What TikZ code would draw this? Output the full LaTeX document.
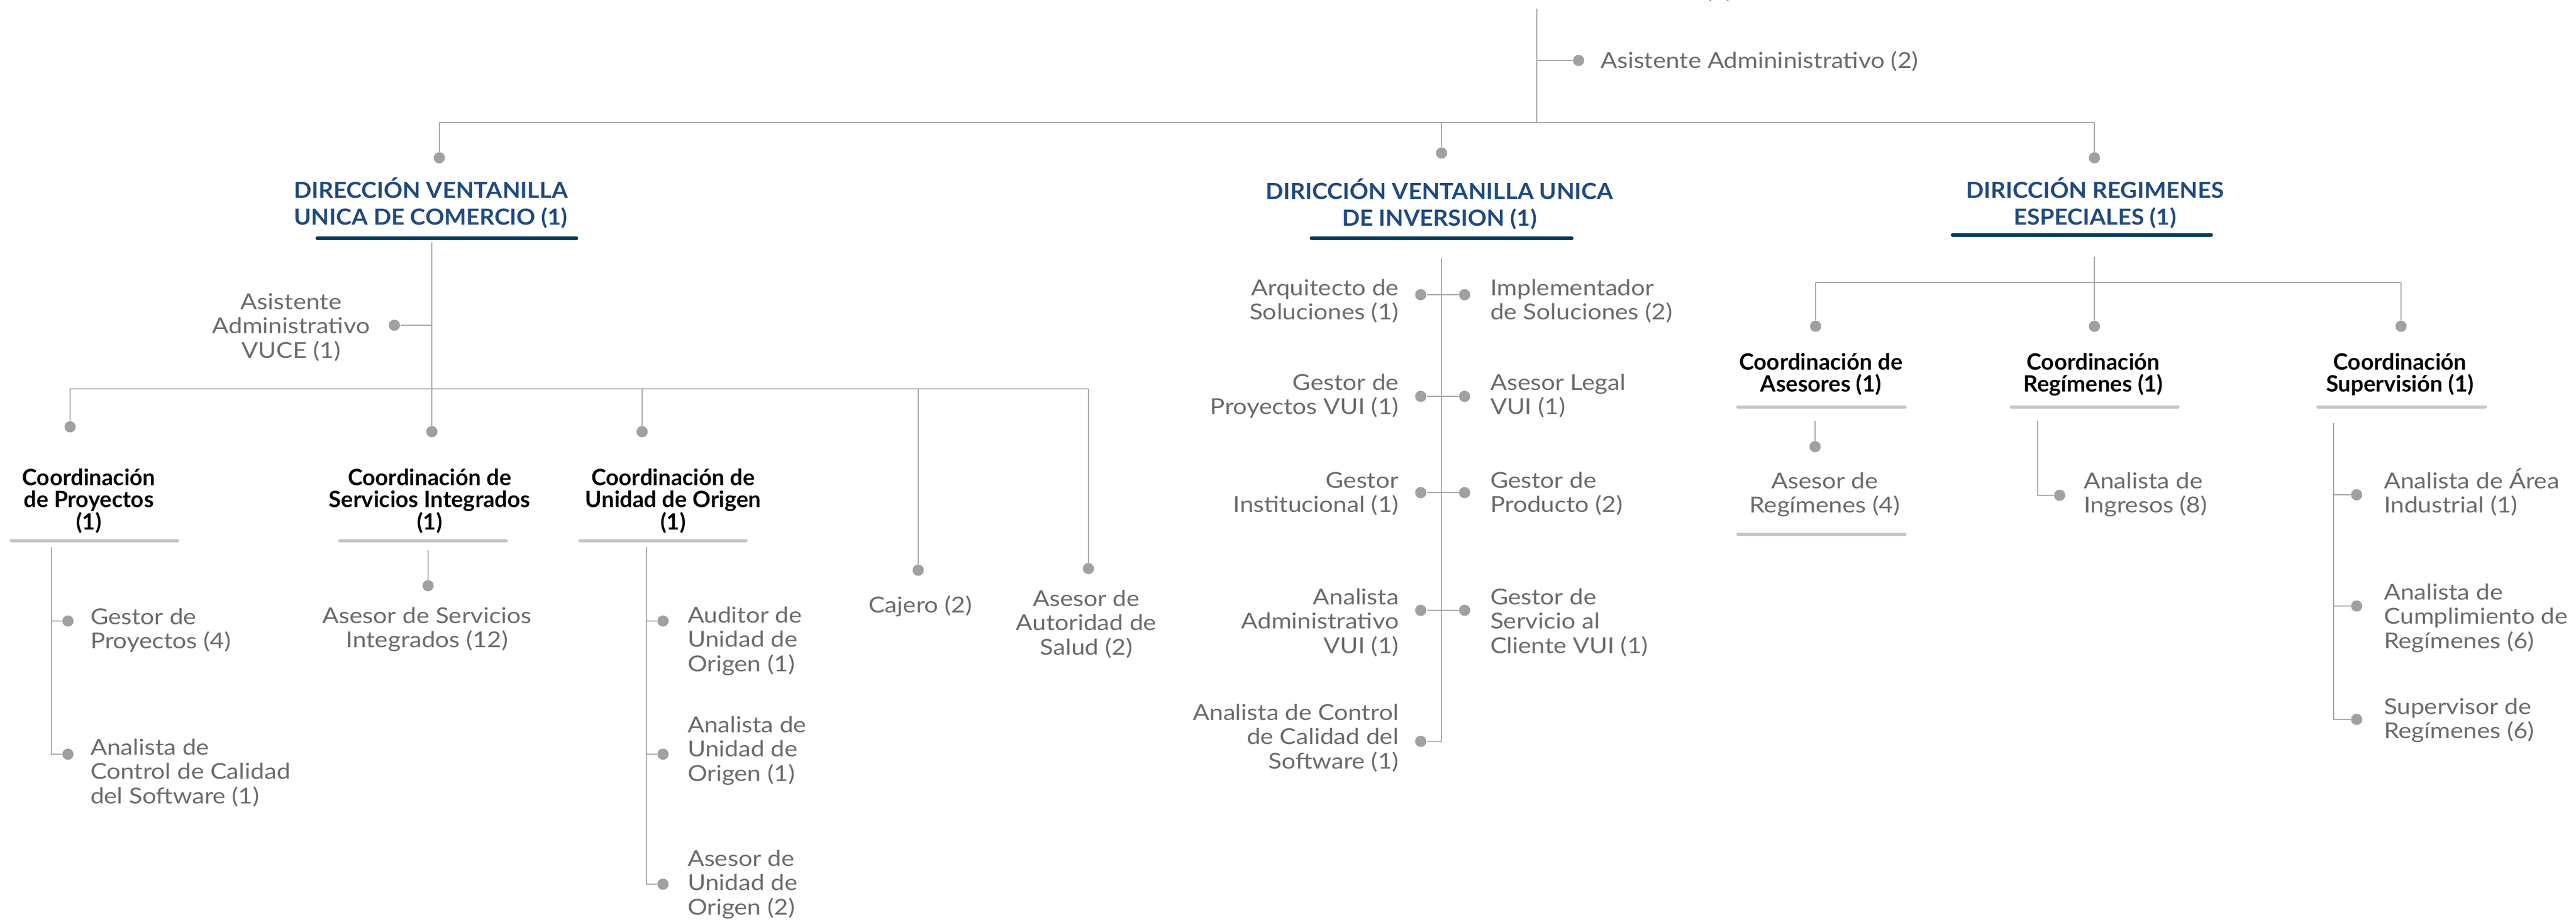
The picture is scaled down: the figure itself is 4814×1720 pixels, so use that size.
\documentclass[tikz,border=0pt]{standalone}
\usepackage{fontspec}
\setmainfont{Lato}
\newfontfamily\graylato{Lato}[FakeStretch=1.12]
\newfontfamily\titlelato{Lato}[FakeStretch=1.05]
\definecolor{txtg}{HTML}{6B6B6B}
\definecolor{lineg}{HTML}{A6A6A6}
\definecolor{dotg}{HTML}{A0A0A0}
\definecolor{barg}{HTML}{C6C6C6}
\definecolor{titleblue}{HTML}{1F4A80}
\definecolor{navy}{HTML}{023A5E}
\def\Lt#1{\vtop{\lineskiplimit=-20pt\halign{##\hfil\cr#1\crcr}}}
\def\Ct#1{\vtop{\lineskiplimit=-20pt\halign{\hfil##\hfil\cr#1\crcr}}}
\def\Rt#1{\vtop{\lineskiplimit=-20pt\halign{\hfil##\cr#1\crcr}}}
\begin{document}
\begin{tikzpicture}[x=0.2pt,y=-0.2pt,
  ln/.style={draw=lineg, line width=0.5pt},
  dot/.style={circle, fill=dotg, inner sep=0pt, minimum size=4.2pt},
  gtxt/.style={text=txtg, inner sep=0pt, font=\graylato\fontsize{8.2}{9.1}\selectfont},
  htxt/.style={text=black, inner sep=0pt, font=\bfseries\fontsize{8.4}{8.3}\selectfont},
  btxt/.style={text=titleblue, inner sep=0pt, font=\titlelato\bfseries\fontsize{8.3}{10}\selectfont},
  navybar/.style={draw=navy, line width=1.4pt, line cap=round},
  graybar/.style={draw=barg, line width=1.3pt, line cap=round}]
\useasboundingbox (0,0) rectangle (4814,1720);
\begin{scope}
\clip (0,0) rectangle (4814,1720);
\node[btxt, anchor=base] (tTop) at (3213,-5) {(1)};
\end{scope}

% ---------- top level ----------
\coordinate (top) at (2872,16);
\coordinate (jAsis) at (2872,113);
\coordinate (jMain) at (2872,229);
\coordinate (mL) at (821,229);
\coordinate (mM) at (2694,229);
\coordinate (mR) at (3914,229);
\node[dot] (dAsis) at (2950,113) {};
\node[gtxt, anchor=base west] (tAsis) at (2990,128) {Asistente Admininistrativo (2)};
\node[dot] (dCom) at (821,295) {};
\node[dot] (dInv) at (2694,286) {};
\node[dot] (dReg) at (3914,295) {};
\draw[ln] (top) -- (jMain);
\draw[ln] (jAsis) -- (dAsis);
\draw[ln] (mL) -- (mR);
\draw[ln] (mL) -- (dCom);
\draw[ln] (mM) -- (dInv);
\draw[ln] (mR) -- (dReg);

% ---------- titles ----------
\node[btxt, anchor=base] (tCom) at (805,370) {\Ct{DIRECCIÓN VENTANILLA\cr UNICA DE COMERCIO (1)}};
\node[btxt, anchor=base] (tInv) at (2690,372) {\Ct{DIRICCIÓN VENTANILLA UNICA\cr DE INVERSION (1)}};
\node[btxt, anchor=base] (tReg) at (3915,370) {\Ct{DIRICCIÓN REGIMENES\cr ESPECIALES (1)}};
\coordinate (uComL) at (593,445); \coordinate (uComR) at (1077,445);
\coordinate (uInvL) at (2451,445); \coordinate (uInvR) at (2937,445);
\coordinate (uRegL) at (3649,439); \coordinate (uRegR) at (4132,439);
\draw[navybar] (uComL) -- (uComR);
\draw[navybar] (uInvL) -- (uInvR);
\draw[navybar] (uRegL) -- (uRegR);

% ---------- Comercio ----------
\coordinate (vCom) at (807,453);
\coordinate (jAsisV) at (807,608);
\node[dot] (dAsisV) at (737,608) {};
\node[gtxt, anchor=base] (tAsisV) at (544,578) {\Ct{Asistente\cr Administrativo\cr VUCE (1)}};
\coordinate (sbL) at (131,727);
\coordinate (sbC) at (807,727);
\coordinate (sbU) at (1200,727);
\coordinate (sbCa) at (1716,727);
\coordinate (sbR) at (2034,727);
\node[dot] (dProy) at (131,798) {};
\node[dot] (dServ) at (807,807) {};
\node[dot] (dUni) at (1200,807) {};
\node[dot] (dCaj) at (1716,1066) {};
\node[dot] (dAut) at (2034,1063) {};
\draw[ln] (vCom) -- (dServ);
\draw[ln] (jAsisV) -- (dAsisV);
\draw[ln] (sbL) -- (sbR);
\draw[ln] (sbL) -- (dProy);
\draw[ln] (sbU) -- (dUni);
\draw[ln] (sbCa) -- (dCaj);
\draw[ln] (sbR) -- (dAut);

\node[htxt, anchor=base] (tProy) at (166,907) {\Ct{Coordinación\cr de Proyectos\cr (1)}};
\node[htxt, anchor=base] (tServ) at (803,907) {\Ct{Coordinación de\cr Servicios Integrados\cr (1)}};
\node[htxt, anchor=base] (tUni) at (1258,907) {\Ct{Coordinación de\cr Unidad de Origen\cr (1)}};
\coordinate (gProyL) at (21,1011); \coordinate (gProyR) at (332,1011);
\coordinate (gServL) at (635,1011); \coordinate (gServR) at (946,1011);
\coordinate (gUniL) at (1084,1011); \coordinate (gUniR) at (1394,1011);
\draw[graybar] (gProyL) -- (gProyR);
\draw[graybar] (gServL) -- (gServR);
\draw[graybar] (gUniL) -- (gUniR);

% Proyectos
\coordinate (pTop) at (96,1023);
\coordinate (pJ1) at (96,1161);
\coordinate (pJ2) at (96,1410);
\node[dot] (dGP) at (127,1161) {};
\node[dot] (dAC) at (127,1410) {};
\draw[ln] (pTop) -- (pJ2) -- (dAC);
\draw[ln] (pJ1) -- (dGP);
\node[gtxt, anchor=base west] (tGP) at (168,1167) {\Lt{Gestor de\cr Proyectos (4)}};
\node[gtxt, anchor=base west] (tAC) at (168,1411) {\Lt{Analista de\cr Control de Calidad\cr del Software (1)}};

% Servicios
\coordinate (sTop) at (800,1029);
\node[dot] (dAS) at (800,1095) {};
\draw[ln] (sTop) -- (dAS);
\node[gtxt, anchor=base] (tAS) at (798,1165) {\Ct{Asesor de Servicios\cr Integrados (12)}};

% Unidad de Origen
\coordinate (uTop) at (1208,1023);
\coordinate (uJ1) at (1208,1161);
\coordinate (uJ2) at (1208,1410);
\coordinate (uJ3) at (1208,1653);
\node[dot] (dAud) at (1239,1161) {};
\node[dot] (dAnU) at (1239,1410) {};
\node[dot] (dAsU) at (1239,1653) {};
\draw[ln] (uTop) -- (uJ3) -- (dAsU);
\draw[ln] (uJ1) -- (dAud);
\draw[ln] (uJ2) -- (dAnU);
\node[gtxt, anchor=base west] (tAud) at (1284,1164) {\Lt{Auditor de\cr Unidad de\cr Origen (1)}};
\node[gtxt, anchor=base west] (tAnU) at (1284,1369) {\Lt{Analista de\cr Unidad de\cr Origen (1)}};
\node[gtxt, anchor=base west] (tAsU) at (1284,1619) {\Lt{Asesor de\cr Unidad de\cr Origen (2)}};

% Cajero, Autoridad
\node[gtxt, anchor=base] (tCaj) at (1720,1145) {Cajero (2)};
\node[gtxt, anchor=base] (tAut) at (2030,1133) {\Ct{Asesor de\cr Autoridad de\cr Salud (2)}};

% ---------- Inversion ----------
\coordinate (iTop) at (2694,482);
\coordinate (iJ1) at (2694,551);
\coordinate (iJ2) at (2694,741);
\coordinate (iJ3) at (2694,921);
\coordinate (iJ4) at (2694,1141);
\coordinate (iJ5) at (2694,1386);
\node[dot] (dL1) at (2655,551) {};
\node[dot] (dR1) at (2737,551) {};
\node[dot] (dL2) at (2655,741) {};
\node[dot] (dR2) at (2737,741) {};
\node[dot] (dL3) at (2655,921) {};
\node[dot] (dR3) at (2737,921) {};
\node[dot] (dL4) at (2655,1141) {};
\node[dot] (dR4) at (2737,1141) {};
\node[dot] (dL5) at (2655,1386) {};
\draw[ln] (iTop) -- (iJ5) -- (dL5);
\draw[ln] (dL1) -- (dR1);
\draw[ln] (dL2) -- (dR2);
\draw[ln] (dL3) -- (dR3);
\draw[ln] (dL4) -- (dR4);
\node[gtxt, anchor=base east] (tL1) at (2615,552) {\Rt{Arquitecto de\cr Soluciones (1)}};
\node[gtxt, anchor=base east] (tL2) at (2615,729) {\Rt{Gestor de\cr Proyectos VUI (1)}};
\node[gtxt, anchor=base east] (tL3) at (2615,912) {\Rt{Gestor\cr Institucional (1)}};
\node[gtxt, anchor=base east] (tL4) at (2615,1130) {\Rt{Analista\cr Administrativo\cr VUI (1)}};
\node[gtxt, anchor=base east] (tL5) at (2615,1346) {\Rt{Analista de Control\cr de Calidad del\cr Software (1)}};
\node[gtxt, anchor=base west] (tR1) at (2784,552) {\Lt{Implementador\cr de Soluciones (2)}};
\node[gtxt, anchor=base west] (tR2) at (2784,729) {\Lt{Asesor Legal\cr VUI (1)}};
\node[gtxt, anchor=base west] (tR3) at (2784,912) {\Lt{Gestor de\cr Producto (2)}};
\node[gtxt, anchor=base west] (tR4) at (2784,1130) {\Lt{Gestor de\cr Servicio al\cr Cliente VUI (1)}};

% ---------- Regimenes ----------
\coordinate (rTop) at (3914,480);
\coordinate (rbL) at (3393,528);
\coordinate (rbM) at (3914,528);
\coordinate (rbR) at (4487,528);
\node[dot] (dCA) at (3393,610) {};
\node[dot] (dCR) at (3914,610) {};
\node[dot] (dCS) at (4487,610) {};
\draw[ln] (rTop) -- (rbM);
\draw[ln] (rbL) -- (rbR);
\draw[ln] (rbL) -- (dCA);
\draw[ln] (rbM) -- (dCR);
\draw[ln] (rbR) -- (dCS);
\node[htxt, anchor=base] (tCA) at (3403,691) {\Ct{Coordinación de\cr Asesores (1)}};
\node[htxt, anchor=base] (tCR) at (3912,691) {\Ct{Coordinación\cr Regímenes (1)}};
\node[htxt, anchor=base] (tCS) at (4485,691) {\Ct{Coordinación\cr Supervisión (1)}};
\coordinate (gCAL) at (3248,761); \coordinate (gCAR) at (3560,761);
\coordinate (gCRL) at (3759,761); \coordinate (gCRR) at (4070,761);
\coordinate (gCSL) at (4332,761); \coordinate (gCSR) at (4644,761);
\coordinate (gAsL) at (3248,999); \coordinate (gAsR) at (3560,999);
\draw[graybar] (gCAL) -- (gCAR);
\draw[graybar] (gCRL) -- (gCRR);
\draw[graybar] (gCSL) -- (gCSR);
\draw[graybar] (gAsL) -- (gAsR);

% Asesores
\coordinate (aTop) at (3392,787);
\node[dot] (dAR) at (3392,835) {};
\draw[ln] (aTop) -- (dAR);
\node[gtxt, anchor=base] (tAR) at (3410,913) {\Ct{Asesor de\cr Regímenes (4)}};

% Regimenes
\coordinate (gTop) at (3808,787);
\coordinate (gJ) at (3808,926);
\node[dot] (dAI) at (3849,926) {};
\draw[ln] (gTop) -- (gJ) -- (dAI);
\node[gtxt, anchor=base west] (tAI) at (3893,913) {\Lt{Analista de\cr Ingresos (8)}};

% Supervision
\coordinate (vTop) at (4361,791);
\coordinate (vJ1) at (4361,925);
\coordinate (vJ2) at (4361,1133);
\coordinate (vJ3) at (4361,1345);
\node[dot] (dS1) at (4404,925) {};
\node[dot] (dS2) at (4404,1133) {};
\node[dot] (dS3) at (4404,1345) {};
\draw[ln] (vTop) -- (vJ3) -- (dS3);
\draw[ln] (vJ1) -- (dS1);
\draw[ln] (vJ2) -- (dS2);
\node[gtxt, anchor=base west] (tS1) at (4454,913) {\Lt{Analista de Área\cr Industrial (1)}};
\node[gtxt, anchor=base west] (tS2) at (4454,1121) {\Lt{Analista de\cr Cumplimiento de\cr Regímenes (6)}};
\node[gtxt, anchor=base west] (tS3) at (4454,1335) {\Lt{Supervisor de\cr Regímenes (6)}};
\end{tikzpicture}
\end{document}
